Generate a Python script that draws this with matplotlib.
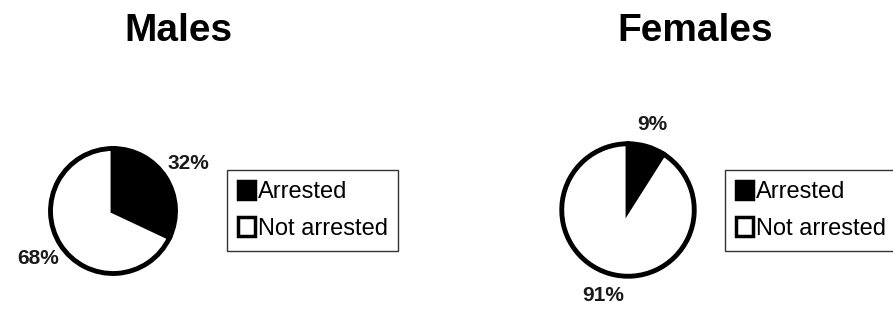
"""
Arrest rates by sex — two pie charts side by side.
"""

import matplotlib
matplotlib.use("Agg")
import matplotlib.pyplot as plt
from matplotlib.patches import Patch

plt.rcParams["font.family"] = ["Liberation Sans", "DejaVu Sans"]

# ── Data ────────────────────────────────────────────────────────────────────

categories = ["Arrested", "Not arrested"]
groups = ["Males", "Females"]
males = [32, 68]
females = [9, 91]

COLORS = ["#000000", "#FFFFFF"]

W, H = 893, 309
fig = plt.figure(figsize=(W / 100, H / 100), dpi=100)
fig.patch.set_facecolor("white")


def pie_axes(cx, cy, size=220):
    """Square axes centred on a pixel position (origin top-left)."""
    ax = fig.add_axes([(cx - size / 2) / W, 1 - (cy + size / 2) / H, size / W, size / H])
    ax.axis("off")
    return ax


def draw_pie(ax, values, radius, labeldist):
    wedges, texts = ax.pie(
        values,
        colors=COLORS,
        startangle=90,
        counterclock=False,
        radius=radius,
        labels=[f"{v}%" for v in values],
        labeldistance=labeldist,
        wedgeprops=dict(edgecolor="black", linewidth=3.5),
        textprops=dict(fontsize=15, fontweight="bold", color="#1a1a1a"),
        frame=False,
    )
    for t in texts:
        t.set_ha("center")
        t.set_va("center")
    ax.set_xlim(-1.76, 1.76)
    ax.set_ylim(-1.76, 1.76)
    ax.set_aspect("equal")


# ── Males ───────────────────────────────────────────────────────────────────
ax1 = pie_axes(113, 211)
draw_pie(ax1, males, 1.0, 1.42)

# ── Females ─────────────────────────────────────────────────────────────────
ax2 = pie_axes(628, 210)
draw_pie(ax2, females, 1.06, 1.34)

fig.text(178 / W, 1 - 31 / H, groups[0], ha="center", va="center",
         fontsize=28, fontweight="bold")
fig.text(695 / W, 1 - 31 / H, groups[1], ha="center", va="center",
         fontsize=28, fontweight="bold")

handles = [Patch(facecolor=c, edgecolor="black", linewidth=2.5) for c in COLORS]
for left in (227, 725):
    leg = fig.legend(
        handles, categories,
        loc="upper left",
        bbox_to_anchor=(left / W, 1 - 170 / H),
        fontsize=17,
        frameon=True,
        fancybox=False,
        shadow=False,
        handlelength=0.75,
        handleheight=0.85,
        handletextpad=0.1,
        borderpad=0.45,
        borderaxespad=0,
        labelspacing=0.6,
    )
    leg.get_frame().set_edgecolor("black")
    leg.get_frame().set_linewidth(1.0)

fig.savefig("out.png", dpi=100, facecolor="white")
